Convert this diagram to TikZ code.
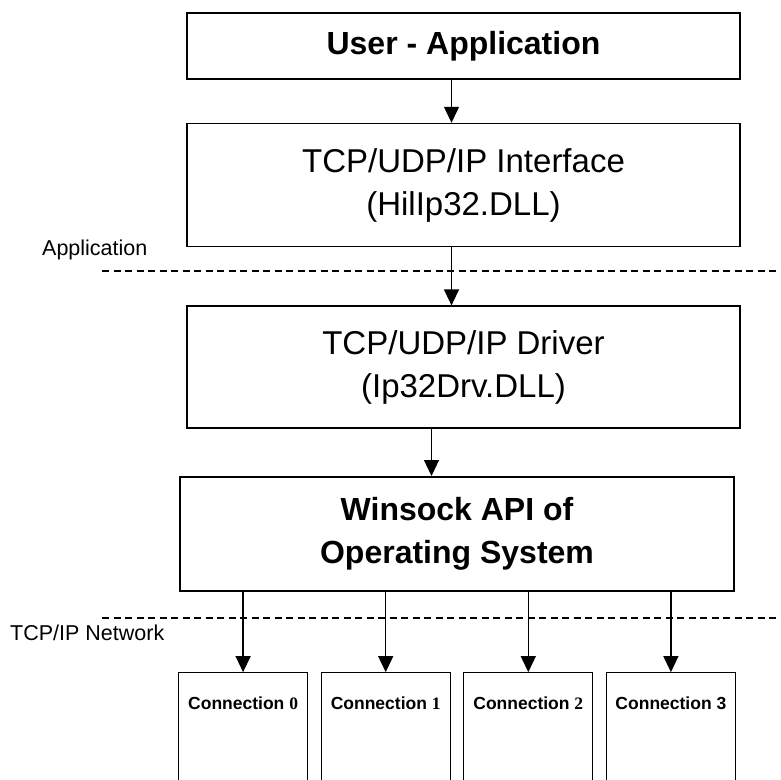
\documentclass[tikz,border=0pt]{standalone}
\usepackage{fontspec}
\setmainfont{Liberation Sans}
\newfontfamily\numfont{Liberation Serif}
\usetikzlibrary{arrows.meta,
                matrix,
                positioning}

\begin{document}
\begin{tikzpicture}[x=1pt, y=1pt,
node distance = 43pt,
   BOX/.style = {draw, line width=1.6pt, minimum width=553pt,
                 align=center, inner sep=0pt},
   BIG/.style = {font=\fontsize{33}{43}\selectfont},     % regular text
  BIGB/.style = {font=\fontsize{32}{43}\selectfont\bfseries},% bold text
   ARR/.style = {-{Triangle[length=16pt, width=15pt]}, line width=1.3pt},
   SEP/.style = {dash pattern=on 7pt off 4.5pt, line width=1.4pt},
   LBL/.style = {font=\fontsize{21.5}{26}\selectfont, inner sep=0pt,
                 anchor=base west},
  MTRX/.style = {matrix of nodes,
                 nodes={draw, line width=1.3pt, minimum width=129pt,
                        inner xsep=0pt, inner ysep=0pt,
                        text height=37pt, text depth=93pt,
                        font=\fontsize{17.5}{20}\selectfont\bfseries},
                 column sep=12.3pt}
                        ]
\clip (0,0) rectangle (781,-779);
% layer boxes
\node (app) [BOX, BIGB, minimum height=66pt] at (463.5,-46) {User - Application};
\node (itf) [BOX, BIG, minimum height=123pt, below=of app]
            {TCP/UDP/IP Interface\\(HilIp32.DLL)};
\node (drv) [BOX, BIG, minimum height=122pt, below=58pt of itf]
            {TCP/UDP/IP Driver\\(Ip32Drv.DLL)};
\node (ws)  [BOX, BIGB, minimum height=114pt, minimum width=554pt,
             below=47pt of drv, xshift=-6.5pt]
            {Winsock API of\\Operating System};
% connections
\matrix (con) [MTRX, below=77pt of ws]
{
Connection {\numfont 0} & Connection {\numfont 1} & Connection {\numfont 2} & Connection 3 \\
};
% separators
\draw[SEP] (102,-271) -- (781,-271);
\draw[SEP] (102,-618) -- (781,-618);
\node (lapp) [LBL] at (42,-255) {Application};
\node (lnet) [LBL] at (10,-640) {TCP/IP Network};
% arrows
\draw[ARR] ([xshift=-12pt]app.south) -- ([xshift=-12pt]itf.north);
\draw[ARR] ([xshift=-12pt]itf.south) -- ([xshift=-12pt]drv.north);
\draw[ARR] ([xshift=-32pt]drv.south) -- ([xshift=-32pt]drv.south |- ws.north);
\foreach \i in {1,...,4}
  \draw[ARR] (con-1-\i.north |- ws.south) -- (con-1-\i.north);
\end{tikzpicture}
\end{document}
